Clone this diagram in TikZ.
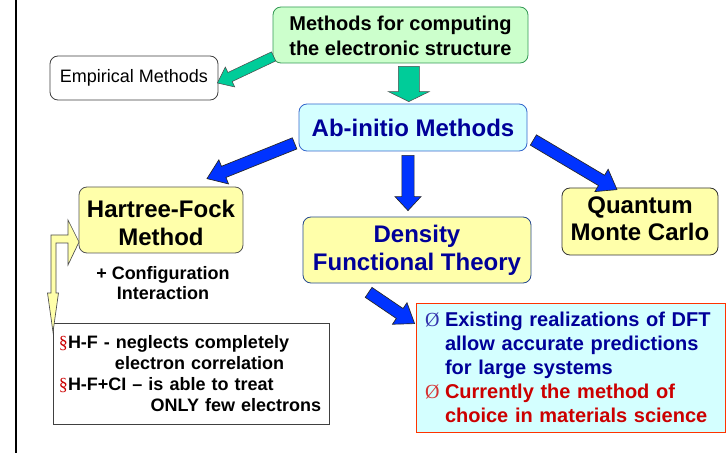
\documentclass[tikz,border=0pt]{standalone}
\usepackage{fontspec}
\setmainfont{Liberation Sans}
\newfontfamily\serifb{Liberation Serif}
\usetikzlibrary{calc}
\definecolor{gfill}{HTML}{CCFFCC}
\definecolor{gdraw}{HTML}{339955}
\definecolor{cfill}{HTML}{D4FFFF}
\definecolor{cdraw}{HTML}{3366CC}
\definecolor{yfill}{HTML}{FFFFAA}
\definecolor{ydraw}{HTML}{555555}
\definecolor{navy}{HTML}{000099}
\definecolor{dred}{HTML}{CC0000}
\definecolor{rdraw}{HTML}{FF3300}
\definecolor{teal}{HTML}{00CC99}
\definecolor{bluearr}{HTML}{0033FF}
\newcommand{\blockarr}[6]{%
  \coordinate (ba-h) at ($(#2)!#5!(#1)$);
  \draw[#6] ($(#1)!#3!90:(#2)$) -- ($(ba-h)!#3!90:(#2)$) -- ($(ba-h)!#4!90:(#2)$) -- (#2)
    -- ($(ba-h)!#4!-90:(#2)$) -- ($(ba-h)!#3!-90:(#2)$) -- ($(#1)!#3!-90:(#2)$) -- cycle;}
\begin{document}
\begin{tikzpicture}[x=0.75pt,y=-0.75pt,
  rbox/.style={draw, rounded corners=6pt, line width=0.6pt, inner sep=0pt, align=center},
  gbox/.style={rbox, fill=gfill, draw=gdraw},
  cbox/.style={rbox, fill=cfill, draw=cdraw},
  ybox/.style={rbox, fill=yfill, draw=ydraw},
  tarr/.style={fill=teal, draw=black!70, line width=0.4pt, line join=miter},
  barr/.style={fill=bluearr, draw=black!85, line width=0.5pt, line join=miter},
]
\useasboundingbox (0,0) rectangle (726,453);
\fill[white] (0,0) rectangle (726,453);
\draw[line width=1.5pt] (16,0) -- (16,453);

\node[gbox, minimum width=191.25pt, minimum height=42pt,
  font=\fontsize{15pt}{18.75pt}\selectfont\bfseries] (top) at (400.5,35)
  {\rule{0pt}{12.5pt}Methods for computing\\the electronic structure};
\node[rbox, fill=white, draw=black!75, minimum width=126pt, minimum height=33pt,
  font=\fontsize{13.5pt}{16pt}\selectfont] (emp) at (134,78) {Empirical Methods};
\node[cbox, minimum width=171pt, minimum height=35.25pt, text=navy,
  font=\fontsize{18pt}{21pt}\selectfont\bfseries] (ab) at (413,127.5) {Ab-initio Methods};
\node[ybox, minimum width=123pt, minimum height=49.5pt,
  font=\fontsize{18pt}{21pt}\selectfont\bfseries] (hf) at (161,220) {\rule{0pt}{17.6pt}Hartree-Fock\\Method};
\node[ybox, draw=cdraw!70!black, minimum width=171pt, minimum height=49.5pt, text=navy,
  font=\fontsize{18pt}{21pt}\selectfont\bfseries] (dft) at (417,250) {Density\\Functional Theory};
\node[ybox, draw=black!80, minimum width=117pt, minimum height=50.25pt,
  font=\fontsize{18pt}{20.25pt}\selectfont\bfseries] (qmc) at (640,221.5) {Quantum\\Monte Carlo\rule[-4.5pt]{0pt}{1pt}};
\node[align=center, inner sep=0pt, font=\fontsize{13.5pt}{15pt}\selectfont\bfseries]
  (ci) at (163,283) {+ Configuration\\Interaction};

\node[draw=black!75, fill=white, line width=0.6pt, minimum width=207pt, minimum height=75.75pt,
  inner xsep=4.5pt, inner ysep=0pt, text width=198pt, align=left,
  font=\fontsize{13.5pt}{15.75pt}\selectfont\bfseries] (hfbox) at (191,373.5)
  {{\serifb\mdseries\color{dred}\S}H-F - neglects completely\\
   \hspace*{42pt}electron correlation\\
   {\serifb\mdseries\color{dred}\S}H-F+CI -- is able to treat\\
   \hspace*{68.8pt}ONLY few electrons};

\node[draw=rdraw, fill=cfill, line width=0.6pt, minimum width=231.75pt, minimum height=96.75pt,
  inner xsep=6.75pt, inner ysep=0pt, text width=218.25pt, align=left,
  font=\fontsize{15pt}{18pt}\selectfont\bfseries] (dftbox) at (570.5,367.5)
  {\color{navy}\makebox[15pt][l]{\serifb\mdseries\color{navy!80}\O}Existing realizations of DFT\\
   \hspace*{15pt}allow accurate predictions\\
   \hspace*{15pt}for large systems\\
   \color{dred}\makebox[15pt][l]{\serifb\mdseries\color{dred!80}\O}Currently the method of\\
   \hspace*{15pt}choice in materials science};

% connectors
\coordinate (g1s) at ($(top.south west)+(1,-7)$);
\coordinate (g1e) at ($(emp.east)+(-1,5)$);
\blockarr{g1s}{g1e}{3.75pt}{8.25pt}{10.5pt}{tarr}
\coordinate (g2s) at ($(top.south)+(8.3,3)$);
\coordinate (g2e) at ($(ab.north)+(-4.2,-2)$);
\blockarr{g2s}{g2e}{7.875pt}{15.375pt}{7.5pt}{tarr}

\coordinate (b1s) at ($(ab.south west)+(-4,-8)$);
\coordinate (b1e) at ($(hf.north)+(46,-8)$);
\blockarr{b1s}{b1e}{4.5pt}{9.75pt}{13.5pt}{barr}
\coordinate (b2s) at ($(ab.south)+(-5,4)$);
\coordinate (b2e) at ($(dft.north)+(-9,-6)$);
\blockarr{b2s}{b2e}{4.6pt}{9.75pt}{10.5pt}{barr}
\coordinate (b3s) at ($(ab.east)+(6,12.5)$);
\coordinate (b3e) at ($(qmc.north)+(-23,2)$);
\blockarr{b3s}{b3e}{4.5pt}{9.75pt}{13.5pt}{barr}
\coordinate (b4s) at ($(dft.south west)+(66,9)$);
\coordinate (b4e) at ($(dftbox.north west)+(-1,21)$);
\blockarr{b4s}{b4e}{4.5pt}{9.75pt}{13.5pt}{barr}

% bent callout arrow from Hartree-Fock to its note
\draw[fill=yfill, draw=black!70, line width=0.5pt, line join=miter]
  (51,235) -- (68,235) -- (68,220) -- (79,242) -- (68,265) -- (68,243) -- (56,243)
  -- (56,293) -- (58.5,293) -- (53,332) -- (47.5,293) -- (51,293) -- cycle;
\end{tikzpicture}
\end{document}
